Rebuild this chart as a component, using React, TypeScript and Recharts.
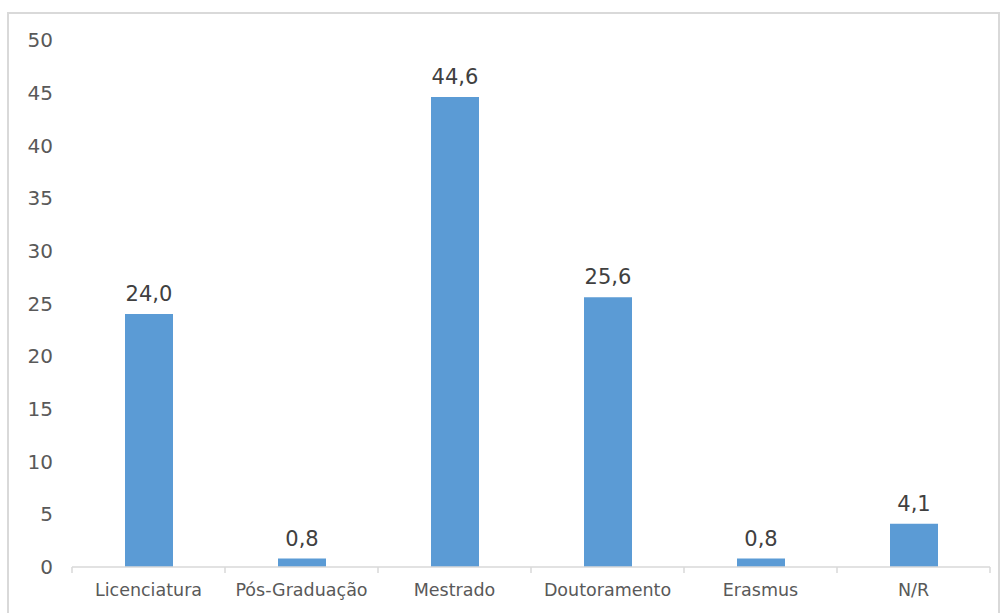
import React from 'react';
import { BarChart, Bar, XAxis, YAxis, LabelList } from 'recharts';

const categories = ['Licenciatura', 'Pós-Graduação', 'Mestrado', 'Doutoramento', 'Erasmus', 'N/R'];
const percentages = [24.0, 0.8, 44.6, 25.6, 0.8, 4.1];
const yTicks = [0, 5, 10, 15, 20, 25, 30, 35, 40, 45, 50];

const data = categories.map((name, i) => ({ name, value: percentages[i] }));

const FONT = '"DejaVu Sans", Verdana, sans-serif';

// category label plus the small separator ticks at band edges
const CategoryTick = (props: any) => {
  const { x, y, payload, index } = props;
  const half = payload && payload.offset ? payload.offset : 76.5;
  return (
    <g>
      <line x1={x - half} y1={y - 8} x2={x - half} y2={y - 2} stroke="#D9D9D9" strokeWidth={1.5} />
      {index === categories.length - 1 && (
        <line x1={x + half} y1={y - 8} x2={x + half} y2={y - 2} stroke="#D9D9D9" strokeWidth={1.5} />
      )}
      <text x={x} y={y + 21} textAnchor="middle" fill="#595959" fontSize={17.5} fontFamily={FONT}>
        {payload.value}
      </text>
    </g>
  );
};

const edge = { position: 'absolute' as const, background: '#D9D9D9', pointerEvents: 'none' as const };

export default function App() {
  return (
    <div style={{ position: 'fixed', left: 0, top: 0, width: 1004, height: 613, background: '#fff', overflow: 'hidden' }}>
      <BarChart
        width={1004}
        height={613}
        data={data}
        margin={{ top: 40, right: 14, bottom: 16, left: 0 }}
        style={{ position: 'absolute', left: 0, top: 0 }}
      >
        <XAxis
          dataKey="name"
          height={30}
          axisLine={{ stroke: '#D9D9D9', strokeWidth: 1.5 }}
          tickLine={false}
          tick={<CategoryTick />}
          interval={0}
        />
        <YAxis
          width={72}
          domain={[0, 50]}
          ticks={yTicks}
          axisLine={false}
          tickLine={false}
          tick={{ fill: '#595959', fontSize: 20, fontFamily: FONT }}
          tickMargin={13}
        />
        <Bar dataKey="value" fill="#5B9BD5" barSize={48} isAnimationActive={false}>
          <LabelList
            dataKey="value"
            position="top"
            offset={13}
            formatter={(v: any) => Number(v).toFixed(1).replace('.', ',')}
            fill="#404040"
            fontSize={21}
            fontFamily={FONT}
          />
        </Bar>
      </BarChart>
      {/* chart frame */}
      <div style={{ ...edge, left: 7, top: 12, width: 993, height: 2 }} />
      <div style={{ ...edge, left: 7, top: 12, width: 2, height: 601 }} />
      <div style={{ ...edge, left: 998, top: 12, width: 2, height: 601 }} />
    </div>
  );
}
